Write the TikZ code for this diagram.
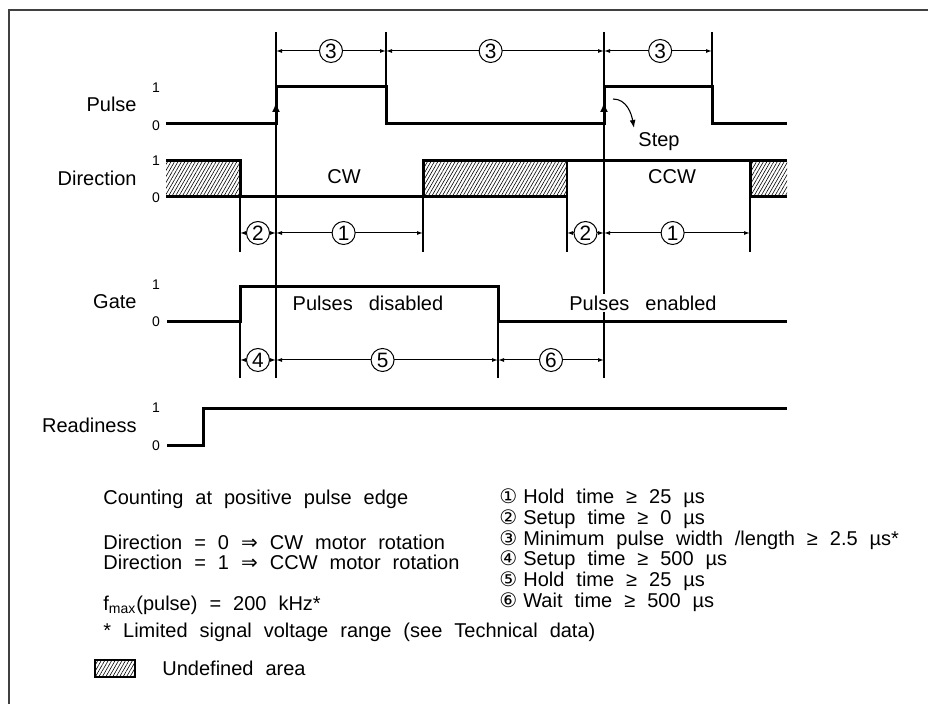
\documentclass[tikz,border=0pt]{standalone}
\usepackage{fontspec}
\setmainfont{Liberation Sans}
\newfontfamily\symfont{DejaVu Sans}
\usetikzlibrary{arrows.meta,patterns.meta}
\newcommand{\widesp}{\spaceskip=0.8em\relax}
\newcommand{\notesp}{\spaceskip=0.6em\relax}

\begin{document}
\begin{tikzpicture}[x=0.5pt, y=-0.5pt,
  sig/.style={line width=1.5pt},
  ext/.style={line width=0.55pt},
  dimln/.style={line width=0.5pt, {Latex[length=3pt,width=2pt]}-{Latex[length=3pt,width=2pt]}},
  num/.style={circle, draw, fill=white, line width=0.5pt, inner sep=0pt, minimum size=11.5pt, font=\fontsize{10.4}{10}\selectfont},
  hatch/.style={pattern={Lines[angle=60,distance=1.5pt,line width=0.3pt]}},
  signame/.style={font=\fontsize{10}{12}\selectfont, anchor=east, inner sep=0pt},
  lvl/.style={font=\fontsize{7}{8}\selectfont, inner sep=0pt},
  lbl/.style={font=\fontsize{10}{12}\selectfont\widesp, inner sep=1pt},
  txt/.style={font=\fontsize{10}{12}\selectfont\notesp, anchor=west, inner sep=0pt},
]
\useasboundingbox (0,0) rectangle (928,704);

% ======================= frame =======================
\draw[line width=0.6pt, black!75] (928,10) -- (9,10) -- (9,704);

% ================= extension lines ===================
\foreach \xx/\ya/\yb in {276/32/378, 386/32/87, 604/32/378, 712/32/87,
                         240/197/252, 423/197/252, 567/161/252, 750/197/252,
                         240/322/378, 498/322/378}
  \draw[ext] (\xx,\ya) -- (\xx,\yb);

% ================= dimension lines ===================
\foreach \xa/\xb/\yy/\n/\p [count=\i] in {276/386/51/3/0.5, 386/604/51/3/0.48, 604/712/51/3/0.52,
    240/276/233/2/0.5, 276/423/233/1/0.46, 567/604/233/2/0.5, 604/750/233/1/0.47,
    240/276/360/4/0.5, 276/498/360/5/0.48, 498/604/360/6/0.5}
  \draw[dimln] (\xa,\yy) -- (\xb,\yy) node[num, pos=\p] (d\i) {\n};

% ===================== Pulse =========================
\draw[sig] (166,124) -| (276,87) -| (386,124) -| (604,87) -| (712,124) -- (787,124);
\draw[sig, -{Latex[length=5pt,width=4pt]}] (276,120) -- (276,102);
\draw[sig, -{Latex[length=5pt,width=4pt]}] (604,120) -- (604,102);
\draw[ext, -{Latex[length=4pt,width=3pt]}] (613,99) to[out=0,in=100] (634,128);

% ==================== Direction ======================
\fill[hatch] (166,161) rectangle (240,197);
\fill[hatch] (423,161) rectangle (567,197);
\fill[hatch] (750,161) rectangle (787,197);
\draw[sig] (166,161) -- (240,161) -- (240,197);
\draw[sig] (166,197) -- (567,197);
\draw[sig] (423,197) -- (423,161) -- (787,161);
\draw[sig] (787,197) -- (750,197) -- (750,161);

% =================== Gate, Readiness =================
\draw[sig] (167,322) -| (240,287) -| (498,322) -- (787,322);
\draw[sig] (167,446) -| (203,409) -- (787,409);

% ====================== labels =======================
\node[signame] (lpulse) at (137,104) {Pulse};
\node[signame] (ldir) at (137,178) {Direction};
\node[signame] (lgate) at (137,302) {Gate};
\node[signame] (lready) at (137,425) {Readiness};
\foreach \yy/\v [count=\i] in {88/1, 126/0, 161/1, 198/0, 285/1, 322/0, 408/1, 446/0}
  \node[lvl] (lv\i) at (156,\yy) {\v};

\node[lbl] (cw) at (344,177) {CW};
\node[lbl] (ccw) at (672,177) {CCW};
\node[lbl] (step) at (659,142) {Step};
\node[lbl] (pdis) at (368,303) {Pulses disabled};
\node[lbl, fill=white] (pen) at (643,303) {Pulses enabled};

% ====================== notes ========================
\node[txt] (cnt) at (103,499) {Counting at positive pulse edge};
\node[txt] (dir0) at (103,542) {Direction = 0 {\symfont ⇒} CW motor rotation};
\node[txt] (dir1) at (103,562) {Direction = 1 {\symfont ⇒} CCW motor rotation};
\node[txt] (fmax) at (103,605) {f\textsubscript{max}(pulse) = 200 kHz*};
\node[txt] (lim) at (103,632) {* Limited signal voltage range (see Technical data)};
\draw[hatch, line width=1.2pt] (95,660) rectangle (135,677);
\node[txt] (undef) at (162,668) {Undefined area};

\node[txt] (t1) at (499,498) {{\symfont ①}\hspace{0.3em}Hold time ≥ 25 µs};
\node[txt] (t2) at (499,519) {{\symfont ②}\hspace{0.3em}Setup time ≥ 0 µs};
\node[txt] (t3) at (499,540) {{\symfont ③}\hspace{0.3em}Minimum pulse width /length ≥ 2.5 µs*};
\node[txt] (t4) at (499,560) {{\symfont ④}\hspace{0.3em}Setup time ≥ 500 µs};
\node[txt] (t5) at (499,581) {{\symfont ⑤}\hspace{0.3em}Hold time ≥ 25 µs};
\node[txt] (t6) at (499,602) {{\symfont ⑥}\hspace{0.3em}Wait time ≥ 500 µs};

\end{tikzpicture}
\end{document}
